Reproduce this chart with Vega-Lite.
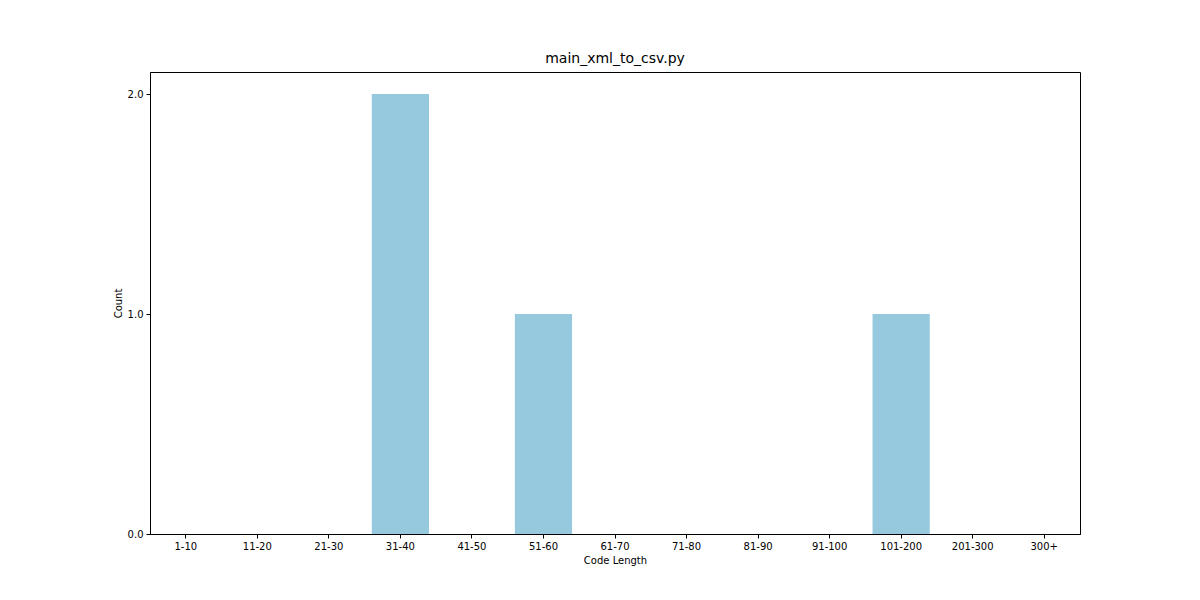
{
  "$schema": "https://vega.github.io/schema/vega-lite/v6.json",
  "width": 930,
  "height": 462,
  "autosize": {"type": "none"},
  "padding": {"left": 150, "top": 72, "right": 120, "bottom": 66},
  "background": "white",
  "title": {"text": "main_xml_to_csv.py", "font": "DejaVu Sans", "fontSize": 14, "fontWeight": "normal", "color": "black", "offset": 6},
  "data": {
    "values": [
      {"range": "1-10", "count": 0},
      {"range": "11-20", "count": 0},
      {"range": "21-30", "count": 0},
      {"range": "31-40", "count": 2},
      {"range": "41-50", "count": 0},
      {"range": "51-60", "count": 1},
      {"range": "61-70", "count": 0},
      {"range": "71-80", "count": 0},
      {"range": "81-90", "count": 0},
      {"range": "91-100", "count": 0},
      {"range": "101-200", "count": 1},
      {"range": "201-300", "count": 0},
      {"range": "300+", "count": 0}
    ]
  },
  "mark": {"type": "bar", "color": "#96c9dd"},
  "encoding": {
    "x": {
      "field": "range", "type": "nominal", "sort": null, "title": "Code Length",
      "scale": {"paddingInner": 0.2, "paddingOuter": 0.1},
      "axis": {"labelAngle": 0}
    },
    "y": {
      "field": "count", "type": "quantitative", "title": "Count",
      "scale": {"domain": [0, 2.1], "nice": false},
      "axis": {"values": [0, 1, 2], "grid": false}
    }
  },
  "config": {
    "view": {"stroke": "black", "strokeWidth": 1},
    "axis": {
      "labelFont": "DejaVu Sans", "titleFont": "DejaVu Sans",
      "labelFontSize": 10, "titleFontSize": 10, "titleFontWeight": "normal",
      "labelColor": "black", "titleColor": "black",
      "domainColor": "black", "tickColor": "black", "tickSize": 4,
      "labelPadding": 3
    }
  }
}
